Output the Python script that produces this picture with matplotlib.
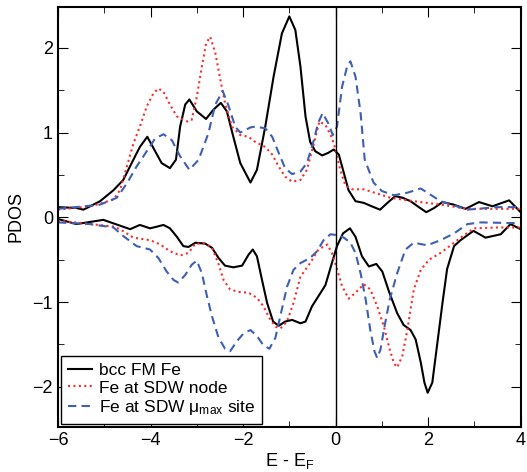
import matplotlib
matplotlib.use('Agg')
import matplotlib.pyplot as plt
from matplotlib.ticker import MultipleLocator

plt.rcParams['font.family'] = ['Liberation Sans', 'DejaVu Sans']

# spin up (positive) curves
fm_up_x = [-6.0, -5.6, -5.45, -5.09, -4.80, -4.59, -4.37, -4.23, -4.07, -3.90, -3.76, -3.58, -3.45,
           -3.36, -3.25, -3.16, -3.0, -2.80, -2.64, -2.48, -2.35, -2.21, -2.06, -1.84, -1.70, -1.52,
           -1.34, -1.16, -1.0, -0.87, -0.76, -0.65, -0.55, -0.44, -0.29, -0.16, -0.04, 0.07, 0.18,
           0.28, 0.43, 0.61, 0.78, 0.96, 1.12, 1.29, 1.45, 1.62, 1.80, 1.96, 2.13, 2.31, 2.55, 2.81,
           3.10, 3.39, 3.75, 4.0]
fm_up_y = [0.12, 0.11, 0.09, 0.19, 0.32, 0.44, 0.68, 0.83, 0.95, 0.78, 0.64, 0.58, 0.68,
           1.07, 1.33, 1.39, 1.25, 1.16, 1.27, 1.35, 1.25, 0.95, 0.64, 0.41, 0.56, 1.07,
           1.66, 2.17, 2.37, 2.21, 1.78, 1.19, 0.89, 0.78, 0.73, 0.76, 0.80, 0.74, 0.52,
           0.32, 0.19, 0.17, 0.13, 0.09, 0.17, 0.25, 0.23, 0.19, 0.12, 0.06, 0.11, 0.18, 0.15, 0.10,
           0.18, 0.13, 0.20, 0.06]

node_up_x = [-6.0, -5.31, -5.09, -4.80, -4.66, -4.51, -4.37, -4.23, -4.08, -3.94, -3.83, -3.72, -3.58,
             -3.43, -3.21, -3.11, -3.0, -2.89, -2.80, -2.71, -2.60, -2.49, -2.39, -2.24, -2.06, -1.88,
             -1.74, -1.52, -1.37, -1.23, -1.09, -0.94, -0.76, -0.62, -0.47, -0.35, -0.22, -0.09, 0.0,
             0.10, 0.21, 0.36, 0.61, 1.19, 1.69, 2.27, 2.85, 3.5, 4.0]
node_up_y = [0.09, 0.13, 0.16, 0.21, 0.32, 0.60, 0.87, 1.07, 1.31, 1.46, 1.52, 1.48, 1.33,
             1.19, 1.13, 1.15, 1.42, 1.78, 2.05, 2.13, 1.94, 1.62, 1.35, 1.07, 0.97, 0.95,
             0.89, 0.83, 0.74, 0.60, 0.48, 0.42, 0.44, 0.56, 0.87, 1.13, 1.09, 0.95, 0.80,
             0.56, 0.38, 0.33, 0.33, 0.23, 0.19, 0.15, 0.10, 0.10, 0.10]

max_up_x = [-6.0, -5.24, -5.09, -4.73, -4.51, -4.30, -4.08, -3.90, -3.72, -3.54, -3.36, -3.16, -2.96,
            -2.75, -2.60, -2.44, -2.31, -2.17, -2.06, -1.84, -1.74, -1.52, -1.37, -1.23, -1.09, -0.94,
            -0.76, -0.62, -0.47, -0.38, -0.28, -0.16, -0.06, 0.03, 0.14, 0.25, 0.32, 0.43, 0.54, 0.63,
            0.82, 1.0, 1.26, 1.55, 1.84, 2.27, 2.85, 3.5, 4.0]
max_up_y = [0.10, 0.14, 0.15, 0.23, 0.40, 0.60, 0.78, 0.93, 0.98, 0.91, 0.72, 0.56, 0.68,
            0.99, 1.33, 1.49, 1.31, 1.07, 1.00, 1.06, 1.07, 1.05, 0.95, 0.76, 0.58, 0.51,
            0.54, 0.64, 0.91, 1.11, 1.23, 1.11, 0.97, 1.07, 1.54, 1.78, 1.84, 1.66, 1.23, 0.68,
            0.41, 0.31, 0.26, 0.29, 0.34, 0.19, 0.09, 0.12, 0.12]

# spin down (negative) curves
fm_dn_x = [-6.0, -5.6, -5.02, -4.44, -4.23, -4.01, -3.86, -3.72, -3.58, -3.43, -3.29, -3.18, -3.03,
           -2.82, -2.67, -2.53, -2.39, -2.21, -2.02, -1.88, -1.79, -1.70, -1.59, -1.48, -1.35, -1.23,
           -1.09, -0.94, -0.76, -0.65, -0.51, -0.37, -0.22, -0.08, 0.03, 0.16, 0.31, 0.43, 0.57,
           0.72, 0.88, 1.01, 1.15, 1.33, 1.47, 1.62, 1.73, 1.84, 1.92, 1.99, 2.09, 2.20, 2.31,
           2.41, 2.56, 2.70, 2.98, 3.24, 3.57, 3.78, 4.0]
fm_dn_y = [-0.02, -0.08, -0.03, -0.14, -0.09, -0.13, -0.11, -0.09, -0.13, -0.23, -0.34, -0.35, -0.30,
           -0.31, -0.36, -0.48, -0.57, -0.59, -0.57, -0.44, -0.38, -0.46, -0.74, -1.01, -1.23, -1.28,
           -1.23, -1.21, -1.25, -1.23, -1.05, -0.93, -0.80, -0.54, -0.34, -0.19, -0.13, -0.23, -0.46,
           -0.58, -0.55, -0.64, -0.87, -1.13, -1.27, -1.33, -1.44, -1.71, -1.95, -2.07, -1.95, -1.48, -1.01,
           -0.61, -0.34, -0.27, -0.16, -0.24, -0.20, -0.08, -0.14]

node_dn_x = [-6.0, -5.45, -4.80, -4.66, -4.37, -4.01, -3.79, -3.58, -3.36, -3.18, -3.03, -2.82, -2.67,
             -2.53, -2.42, -2.28, -2.10, -1.88, -1.70, -1.56, -1.43, -1.30, -1.19, -1.05, -0.91, -0.76,
             -0.55, -0.37, -0.18, -0.08, 0.03, 0.14, 0.28, 0.43, 0.61, 0.75, 0.90, 1.04, 1.17, 1.26,
             1.33, 1.44, 1.55, 1.69, 1.84, 2.02, 2.27, 2.56, 2.70, 2.99, 3.5, 4.0]
node_dn_y = [-0.04, -0.07, -0.11, -0.14, -0.24, -0.27, -0.32, -0.40, -0.45, -0.42, -0.31, -0.31, -0.36,
             -0.55, -0.74, -0.85, -0.88, -0.89, -0.95, -1.05, -1.19, -1.29, -1.31, -1.23, -1.01, -0.70,
             -0.54, -0.38, -0.32, -0.42, -0.61, -0.81, -0.96, -0.89, -0.79, -0.85, -1.05, -1.28, -1.56, -1.72,
             -1.77, -1.64, -1.33, -0.85, -0.62, -0.50, -0.42, -0.30, -0.24, -0.13, -0.12, -0.12]

max_dn_x = [-6.0, -5.31, -4.80, -4.59, -4.30, -4.01, -3.83, -3.65, -3.50, -3.40, -3.25, -3.11, -3.0,
            -2.89, -2.78, -2.67, -2.53, -2.39, -2.28, -2.13, -1.99, -1.84, -1.70, -1.56, -1.43, -1.30,
            -1.18, -1.05, -0.91, -0.76, -0.55, -0.40, -0.26, -0.11, 0.03, 0.18, 0.32, 0.43, 0.54, 0.65,
            0.75, 0.84, 0.90, 0.97, 1.06, 1.17, 1.33, 1.51, 1.69, 1.98, 2.27, 2.56, 2.85, 3.13, 4.0]
max_dn_y = [-0.06, -0.08, -0.12, -0.22, -0.34, -0.38, -0.48, -0.64, -0.74, -0.77, -0.68, -0.56, -0.51,
            -0.66, -0.93, -1.17, -1.42, -1.55, -1.58, -1.46, -1.37, -1.33, -1.40, -1.51, -1.55, -1.42,
            -1.13, -0.82, -0.62, -0.54, -0.48, -0.40, -0.27, -0.20, -0.21, -0.24, -0.30, -0.42, -0.66, -0.97,
            -1.33, -1.58, -1.66, -1.56, -1.28, -0.97, -0.66, -0.38, -0.30, -0.33, -0.27, -0.19, -0.08, -0.06, -0.07]

labels = ['bcc FM Fe', 'Fe at SDW node', r'Fe at SDW $\mathregular{\mu_{max}}$ site']

fig = plt.figure(figsize=(5.27, 4.72), dpi=100)
ax = fig.add_axes([0.110, 0.096, 0.878, 0.889])

black, red, blue = 'black', '#ff2a2a', '#3d5fb4'
dots = (0, (1, 1.6))
dashes = (0, (4, 2.5))

ax.plot(fm_up_x, fm_up_y, color=black, lw=1.5, label=labels[0])
ax.plot(fm_dn_x, fm_dn_y, color=black, lw=1.5)
ax.plot(node_up_x, node_up_y, color=red, lw=1.5, ls=dots, label=labels[1])
ax.plot(node_dn_x, node_dn_y, color=red, lw=1.5, ls=dots)
ax.plot(max_up_x, max_up_y, color=blue, lw=1.5, ls=dashes, label=labels[2])
ax.plot(max_dn_x, max_dn_y, color=blue, lw=1.5, ls=dashes)

ax.axvline(0, color='black', lw=1)

ax.set_xlim(-6, 4)
ax.set_ylim(-2.47, 2.48)
ax.xaxis.set_major_locator(MultipleLocator(2))
ax.xaxis.set_minor_locator(MultipleLocator(1))
ax.yaxis.set_major_locator(MultipleLocator(1))
ax.yaxis.set_minor_locator(MultipleLocator(0.5))
ax.tick_params(which='both', direction='in', top=True, right=True, labelsize=13)
ax.tick_params(which='major', length=7)
ax.tick_params(which='minor', length=4)
for s in ax.spines.values():
    s.set_linewidth(1.5)

ax.set_xlabel(r'E - E$\mathregular{_F}$', fontsize=13, labelpad=2)
ax.set_ylabel('PDOS', fontsize=13, labelpad=6)

leg = ax.legend(loc='lower left', fontsize=12.5, fancybox=False, edgecolor='black',
                framealpha=1, borderaxespad=0.15, handlelength=1.4, borderpad=0.4,
                labelspacing=0.15, handletextpad=0.4)
leg.get_frame().set_linewidth(1)

fig.savefig('out.png', dpi=100)
